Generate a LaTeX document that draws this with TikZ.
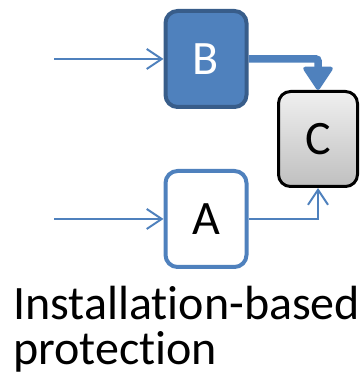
\documentclass[tikz,border=0pt]{standalone}
\usepackage{fontspec}
\setmainfont{Carlito}[Ligatures={NoCommon,NoContextual}]
\usetikzlibrary{arrows.meta}

\definecolor{boxblue}{HTML}{4F81BD}
\definecolor{boxdark}{HTML}{385D8A}

\begin{document}
\begin{tikzpicture}[x=1pt, y=1pt,
    box/.style={rounded corners=12pt, minimum width=81pt, minimum height=96pt,
        line width=4pt, font=\fontsize{48}{45}\selectfont, inner sep=0pt},
    feed/.style={boxblue, line width=2pt, -{Straight Barb[length=15pt, width=20pt]}}]
    \useasboundingbox (0,0) rectangle (362,385);

    % Boxes
    \node[box, fill=boxblue, draw=boxdark, text=white] (B) at (206,326) {B};
    \node[box, fill=white, draw=boxblue] (A) at (206,166) {A};
    \node[box, line width=3pt, minimum width=79pt, minimum height=95pt, draw=black,
        top color=gray!12, bottom color=gray!50] (C) at (318,246) {C};

    % Inputs
    \coordinate (inB) at (54,326);
    \coordinate (inA) at (54,166);
    \draw[feed] (inB) -- (B.west);
    \draw[feed] (inA) -- (A.west);

    % B into C (thick) and A into C
    \draw[boxblue, line width=7.5pt, rounded corners=2pt,
        -{Triangle[length=25pt, width=32pt, line width=4pt, round]}] (B.east) -| (C.north);
    \draw[feed] (A.east) -| (C.south);

    % Caption (base is the last line)
    \node[anchor=base west, align=left, inner sep=0pt,
        font=\fontsize{48}{45}\selectfont] (caption) at (13,20)
        {Installation-based\\protection};
\end{tikzpicture}
\end{document}
